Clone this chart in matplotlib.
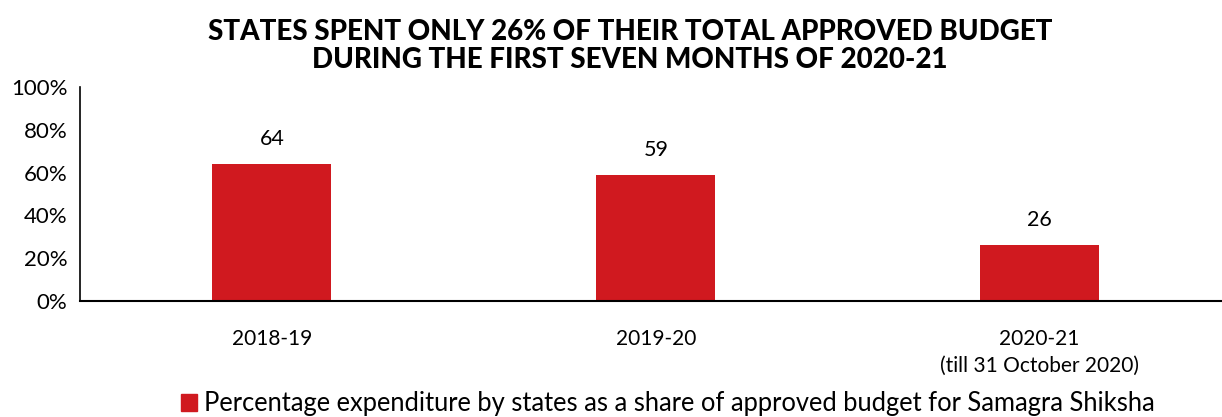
import matplotlib.pyplot as plt
from matplotlib.patches import Patch

plt.rcParams["font.family"] = ["Lato", "DejaVu Sans"]

years = ["2018-19", "2019-20", "2020-21\n(till 31 October 2020)"]
spent_pct = [64, 59, 26]
y_ticks = [0, 20, 40, 60, 80, 100]
bar_color = "#D0191F"

fig = plt.figure(figsize=(12.22, 4.17), dpi=100)
ax = fig.add_axes([80 / 1222, 1 - 301 / 417, 1 - 80 / 1222, (301 - 87) / 417])

x = list(range(len(years)))
bars = ax.bar(x, spent_pct, width=0.31, color=bar_color)
for rect, v in zip(bars, spent_pct):
    ax.text(rect.get_x() + rect.get_width() / 2, v + 7, str(v),
            ha="center", va="bottom", fontsize=15.5)

ax.set_xlim(-0.5, 2.475)
ax.set_ylim(0, 100)
ax.set_yticks(y_ticks)
ax.set_yticklabels([f"{t}%" for t in y_ticks], fontsize=16)
ax.set_xticks(x)
ax.set_xticklabels(years, fontsize=15, linespacing=1.45)
ax.tick_params(axis="both", length=0)
ax.tick_params(axis="x", pad=20)
ax.tick_params(axis="y", pad=9)

for side in ["top", "right"]:
    ax.spines[side].set_visible(False)
ax.spines["left"].set_linewidth(1.2)
ax.spines["bottom"].set_linewidth(1.5)

fig.text(630 / 1222, 1 - 46 / 417,
         "STATES SPENT ONLY 26% OF THEIR TOTAL APPROVED BUDGET\nDURING THE FIRST SEVEN MONTHS OF 2020-21",
         ha="center", va="center", fontsize=20, fontweight="black", linespacing=1.05)

fig.legend(handles=[Patch(color=bar_color)],
           labels=["Percentage expenditure by states as a share of approved budget for Samagra Shiksha"],
           loc="center", bbox_to_anchor=(668 / 1222, 1 - 404 / 417),
           frameon=False, fontsize=18.4, handlelength=0.62, handleheight=0.62, handletextpad=0.3)

fig.savefig("out.png", dpi=100)
